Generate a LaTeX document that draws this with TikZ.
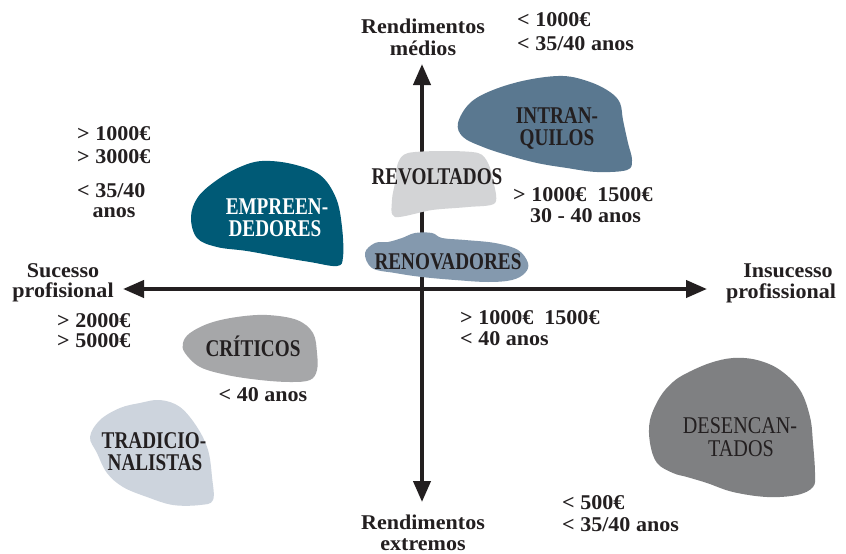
\documentclass[tikz,border=0pt]{standalone}
\usepackage{fontspec}
\setmainfont{Liberation Serif}
\newfontfamily\txtfont{Liberation Serif}[FakeStretch=1.05]
\newfontfamily\blobfont{Liberation Serif}[FakeStretch=0.8]
\newfontfamily\blobfontreg{Liberation Serif}[FakeStretch=0.84]
\usetikzlibrary{arrows.meta}
\definecolor{ink}{HTML}{231F20}
\definecolor{cint}{HTML}{5A7890}
\definecolor{cemp}{HTML}{005A76}
\definecolor{crev}{HTML}{D3D4D6}
\definecolor{cren}{HTML}{8499AE}
\definecolor{ccri}{HTML}{A6A7A9}
\definecolor{ctra}{HTML}{CDD4DD}
\definecolor{cdes}{HTML}{7F8082}
\tikzset{
  lbl/.style={font=\txtfont\bfseries\fontsize{21}{21}\selectfont, text=ink, inner sep=0pt},
  blab/.style={font=\blobfont\bfseries\fontsize{24}{22}\selectfont, text=ink, inner sep=0pt, anchor=base},
  blabreg/.style={font=\blobfontreg\fontsize{24}{22}\selectfont, text=ink, inner sep=0pt, anchor=base},
  axis/.style={draw=ink, line width=4pt, {Triangle[length=21pt,width=17pt]}-{Triangle[length=21pt,width=17pt]}}
}
\begin{document}
\begin{tikzpicture}[x=1pt,y=-1pt]
\useasboundingbox[fill=white] (0,0) rectangle (846,554);
% axes
\coordinate (vt) at (422,64);
\coordinate (vb) at (422,502);
\coordinate (hl) at (123,289);
\coordinate (hr) at (707,289);
\draw[axis] (vt) -- (vb);
\draw[axis] (hl) -- (hr);
% blobs
\fill[cint] plot[smooth cycle,tension=0.6] coordinates {(458,123)(470,103)(493,90)(527,80)(563,76)(590,82)(610,92)(620,103)(623,120)(628,143)(632,160)(627,170)(597,172)(567,168)(537,163)(507,155)(483,147)(463,137)};
\fill[cemp] plot[smooth cycle,tension=0.6] coordinates {(240,167)(262,161)(292,164)(320,175)(336,198)(342,227)(343,257)(337,266)(310,262)(280,257)(247,251)(217,247)(197,238)(191,217)(198,197)(217,180)};
\fill[crev] plot[smooth cycle,tension=0.5] coordinates {(398,163)(408,153)(445,151)(478,153)(488,163)(493,180)(495,203)(468,207)(432,210)(395,217)(392,200)(395,183)};
\fill[cren] plot[smooth cycle,tension=0.6] coordinates {(388,242)(402,238)(415,233)(432,233)(442,238)(465,240)(495,243)(518,250)(528,263)(525,273)(512,280)(488,282)(455,280)(422,277)(395,273)(372,268)(365,253)(375,243)};
\fill[ccri] plot[smooth cycle,tension=0.6] coordinates {(183,343)(190,333)(210,323)(237,317)(267,315)(297,320)(313,333)(317,353)(317,370)(310,380)(290,382)(260,380)(227,375)(200,367)(185,353)};
\fill[ctra] plot[smooth cycle,tension=0.6] coordinates {(120,408)(140,403)(160,400)(180,407)(197,427)(208,450)(212,477)(213,500)(200,505)(173,505)(147,497)(123,487)(107,473)(97,453)(90,437)(100,420)};
\fill[cdes] plot[smooth cycle,tension=0.6] coordinates {(673,382)(687,373)(710,363)(733,358)(757,360)(780,370)(800,390)(810,417)(813,443)(815,473)(813,487)(797,495)(767,497)(733,492)(707,483)(687,477)(673,473)(657,463)(650,443)(650,420)(660,397)};
% blob labels
\node[blab] (int1) at (557,123) {INTRAN-};
\node[blab] (int2) at (557,145) {QUILOS};
\node[blab,text=white] (emp1) at (277,214) {EMPREEN-};
\node[blab,text=white] (emp2) at (275,236) {DEDORES};
\node[blab] (rev) at (437,184) {REVOLTADOS};
\node[blab] (ren) at (448,269) {RENOVADORES};
\node[blab] (cri) at (253,356) {CRÍTICOS};
\node[blab] (tra1) at (154,448) {TRADICIO-};
\node[blab] (tra2) at (155,470) {NALISTAS};
\node[blabreg] (des1) at (740,433) {DESENCAN-};
\node[blabreg] (des2) at (741,456) {TADOS};
% axis labels
\node[lbl,anchor=base] (rmt1) at (423,33) {Rendimentos};
\node[lbl,anchor=base] (rmt2) at (423,55) {médios};
\node[lbl,anchor=base] (rmb1) at (423,529) {Rendimentos};
\node[lbl,anchor=base] (rmb2) at (423,550) {extremos};
\node[lbl,anchor=base] (suc1) at (63,277) {Sucesso};
\node[lbl,anchor=base] (suc2) at (63,297) {profisional};
\node[lbl,anchor=base] (ins1) at (788,277) {Insucesso};
\node[lbl,anchor=base] (ins2) at (781,298) {profissional};
% value labels
\node[lbl,anchor=base west] (a1) at (517,27) {< 1000€};
\node[lbl,anchor=base west] (a2) at (517,50) {< 35/40 anos};
\node[lbl,anchor=base west] (b1) at (77,140) {> 1000€};
\node[lbl,anchor=base west] (b2) at (77,163) {> 3000€};
\node[lbl,anchor=base west] (b3) at (77,197) {< 35/40};
\node[lbl,anchor=base] (b4) at (114,217) {anos};
\node[lbl,anchor=base west] (c1) at (513,201) {> 1000€\ \ 1500€};
\node[lbl,anchor=base west] (c2) at (530,222) {30 - 40 anos};
\node[lbl,anchor=base west] (d1) at (57,327) {> 2000€};
\node[lbl,anchor=base west] (d2) at (57,347) {> 5000€};
\node[lbl,anchor=base west] (e1) at (460,324) {> 1000€\ \ 1500€};
\node[lbl,anchor=base west] (e2) at (460,345) {< 40 anos};
\node[lbl,anchor=base] (f1) at (263,401) {< 40 anos};
\node[lbl,anchor=base west] (g1) at (562,509) {< 500€};
\node[lbl,anchor=base west] (g2) at (562,531) {< 35/40 anos};
\end{tikzpicture}
\end{document}
